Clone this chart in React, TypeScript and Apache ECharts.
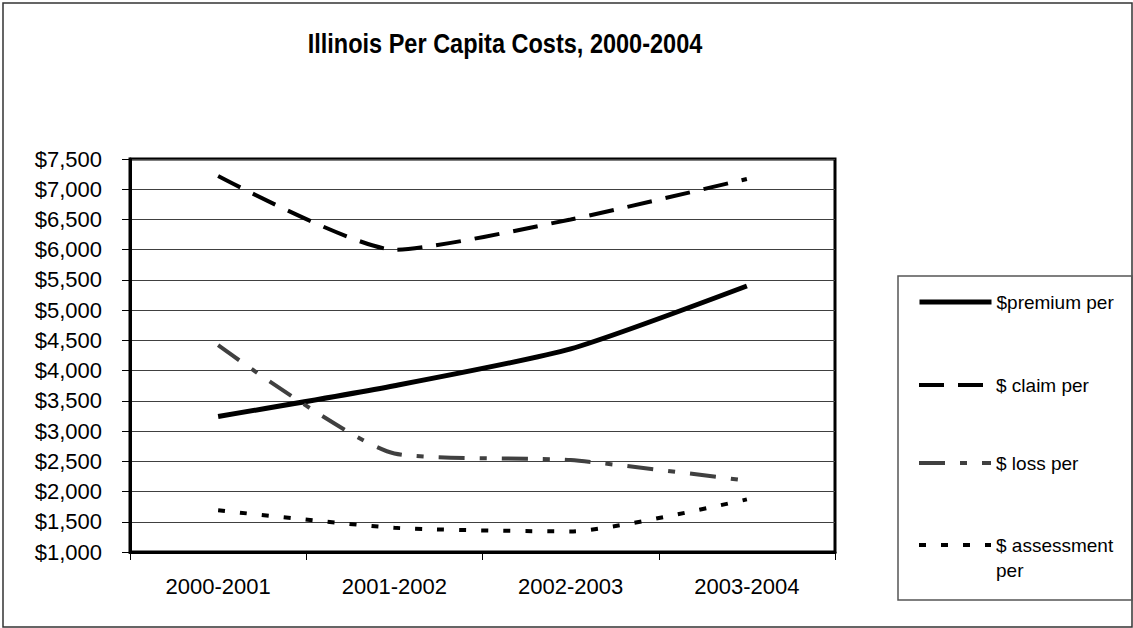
import React, { useEffect, useRef } from "react";
import * as echarts from "echarts";

// Per capita cost series by fiscal year
const categories = ["2000-2001", "2001-2002", "2002-2003", "2003-2004"];
const premiumPer = [3240, 3750, 4360, 5400];
const claimPer = [7220, 6000, 6500, 7170];
const lossPer = [4420, 2630, 2520, 2180];
const assessmentPer = [1690, 1400, 1340, 1870];

const seriesNames = ["$premium per", "$ claim per", "$ loss per", "$ assessment per"];
const yMin = 1000;
const yMax = 7500;
const yStep = 500;

const FONT = "'Liberation Sans', Arial, Helvetica, sans-serif";

export default function App() {
  const ref = useRef<HTMLDivElement>(null);

  useEffect(() => {
    if (!ref.current) return;
    const chart = echarts.init(ref.current, null, { renderer: "svg" });

    const lineSeries = [
      { name: seriesNames[0], data: premiumPer, color: "#000000", width: 5, type: "solid" as any },
      { name: seriesNames[1], data: claimPer, color: "#000000", width: 4, type: [25, 14] },
      { name: seriesNames[2], data: lossPer, color: "#404040", width: 4, type: [26, 15, 7, 15] },
      { name: seriesNames[3], data: assessmentPer, color: "#000000", width: 4, type: [7, 15] },
    ];

    const rowCenters = [302, 385, 463, 545];
    const legendWidths = [5, 4, 4, 4];

    // One legend block per row so each row sits at its own height
    const legends = seriesNames.map((name, i) => {
      const multi = i === 3;
      return {
        data: [name],
        orient: "vertical",
        left: 917,
        top: multi ? rowCenters[i] - 37.5 : rowCenters[i] - 12,
        padding: 0,
        itemWidth: 72,
        itemHeight: 14,
        selectedMode: false,
        itemStyle: { opacity: 0, borderWidth: 0 },
        lineStyle: { width: legendWidths[i] },
        // wrapped label: blank first line keeps "$ assessment" level with the line sample
        formatter: multi ? () => "\n$ assessment\nper" : (n: string) => n,
        textStyle: {
          fontFamily: FONT,
          fontSize: 19,
          color: "#000",
          lineHeight: multi ? 25 : 24,
        },
      };
    });

    chart.setOption({
      animation: false,
      backgroundColor: "#ffffff",
      grid: {
        left: 130,
        right: 298,
        top: 159,
        bottom: 76,
        show: true,
        borderColor: "#000",
        borderWidth: 3,
        backgroundColor: "transparent",
      },
      legend: legends,
      xAxis: {
        type: "category",
        data: categories,
        boundaryGap: true,
        axisLine: { show: true, lineStyle: { color: "#000", width: 3 } },
        axisTick: { show: true, length: 8, lineStyle: { color: "#000", width: 1 } },
        axisLabel: {
          margin: 23,
          fontFamily: FONT,
          fontSize: 22,
          lineHeight: 22,
          color: "#000",
        },
        splitLine: { show: false },
      },
      yAxis: {
        type: "value",
        min: yMin,
        max: yMax,
        interval: yStep,
        axisLine: { show: true, lineStyle: { color: "#000", width: 3 } },
        axisTick: { show: true, length: 8, lineStyle: { color: "#000", width: 1 } },
        axisLabel: {
          margin: 28,
          fontFamily: FONT,
          fontSize: 22,
          color: "#000",
          formatter: (v: number) => "$" + v.toLocaleString("en-US"),
        },
        splitLine: { show: true, lineStyle: { color: "#404040", width: 1 } },
      },
      graphic: [
        {
          type: "rect",
          shape: { x: 3, y: 3, width: 1129, height: 624 },
          style: { fill: "none", stroke: "#333", lineWidth: 1.5 },
          silent: true,
        },
        {
          type: "rect",
          shape: { x: 898, y: 276, width: 234, height: 324 },
          style: { fill: "none", stroke: "#555", lineWidth: 1.5 },
          silent: true,
        },
        {
          type: "text",
          x: 505,
          y: 43,
          scaleX: 0.84,
          style: {
            text: "Illinois Per Capita Costs, 2000-2004",
            fontFamily: FONT,
            fontWeight: "bold",
            fontSize: 28,
            fill: "#000",
            align: "center",
            verticalAlign: "middle",
          },
        },
      ],
      series: lineSeries.map((s) => ({
        name: s.name,
        type: "line",
        data: s.data,
        smooth: 0.2,
        symbol: "none",
        showSymbol: false,
        color: s.color,
        lineStyle: { color: s.color, width: s.width, type: s.type, cap: "butt" },
        emphasis: { disabled: true },
      })),
    });

    return () => chart.dispose();
  }, []);

  return (
    <div
      ref={ref}
      style={{ position: "fixed", left: 0, top: 0, width: 1133, height: 628, background: "#fff" }}
    />
  );
}
